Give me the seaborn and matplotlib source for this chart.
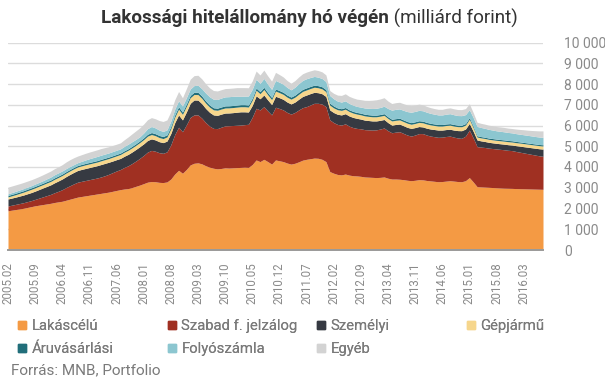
import pandas as pd
import matplotlib.pyplot as plt
import seaborn as sns
from matplotlib.lines import Line2D


# Data (milliard HUF, month-end), 2005.02 - 2016.08

months = pd.date_range("2005-02-01", periods=139, freq="MS")
month_labels = [d.strftime("%Y.%m") for d in months]

lakascelu = [
    1890, 1920, 1950, 1980, 2010, 2050, 2090, 2130, 2160, 2190, 2220, 2250,
    2290, 2320, 2350, 2400, 2450, 2500, 2550, 2580, 2610, 2640, 2670, 2700,
    2730, 2760, 2790, 2830, 2870, 2910, 2940, 2960, 3010, 3070, 3130, 3200,
    3270, 3300, 3290, 3260, 3250, 3280, 3420, 3660, 3840, 3700, 3880, 4100,
    4180, 4200, 4150, 4060, 3990, 3940, 3910, 3930, 3960, 3950, 3960, 3970,
    3980, 3990, 3980, 4120, 4340, 4260, 4370, 4260, 4140, 4340, 4300, 4260,
    4190, 4140, 4180, 4250, 4330, 4370, 4400, 4430, 4420, 4370, 4260, 3780,
    3700, 3640, 3620, 3660, 3610, 3580, 3570, 3550, 3520, 3510, 3500, 3490,
    3500, 3520, 3460, 3420, 3420, 3410, 3390, 3360, 3340, 3360, 3390, 3380,
    3350, 3330, 3310, 3290, 3300, 3320, 3340, 3320, 3300, 3290, 3340, 3490,
    3280, 3050, 3040, 3030, 3020, 3010, 3000, 2990, 2980, 2975, 2970, 2960,
    2955, 2950, 2945, 2940, 2935, 2930, 2925,
]
szabad_jelzalog = [
    230, 240, 250, 260, 270, 280, 290, 310, 340, 370, 400, 430,
    470, 510, 560, 610, 650, 690, 720, 730, 740, 750, 760, 770,
    790, 820, 860, 900, 940, 970, 1040, 1100, 1160, 1220, 1290, 1360,
    1450, 1500, 1470, 1430, 1410, 1450, 1650, 1900, 2080, 2000, 2150, 2290,
    2330, 2310, 2200, 2080, 1980, 1920, 1940, 1990, 2020, 2040, 2040, 2040,
    2040, 2050, 2080, 2280, 2490, 2490, 2540, 2440, 2370, 2540, 2520, 2490,
    2440, 2410, 2450, 2500, 2530, 2540, 2590, 2640, 2650, 2660, 2650, 2490,
    2440, 2410, 2400, 2420, 2360, 2320, 2290, 2290, 2280, 2280, 2280, 2300,
    2330, 2360, 2290, 2230, 2260, 2290, 2230, 2180, 2150, 2180, 2220, 2230,
    2190, 2160, 2150, 2140, 2140, 2150, 2150, 2120, 2100, 2090, 2150, 2290,
    2120, 1930, 1920, 1910, 1890, 1880, 1870, 1860, 1850, 1830, 1820, 1790,
    1760, 1730, 1700, 1670, 1640, 1610, 1590,
]
szemelyi = [
    340, 345, 350, 360, 370, 380, 390, 400, 415, 430, 445, 460,
    480, 500, 515, 530, 545, 555, 565, 575, 580, 585, 590, 595,
    600, 595, 580, 560, 545, 535, 540, 550, 555, 560, 560, 560,
    560, 555, 545, 530, 515, 520, 545, 575, 590, 570, 620, 680,
    720, 715, 700, 680, 665, 650, 640, 630, 620, 615, 620, 630,
    640, 620, 590, 570, 600, 540, 560, 530, 500, 530, 520, 510,
    500, 490, 500, 520, 540, 560, 550, 530, 510, 500, 490, 480,
    485, 490, 490, 490, 490, 490, 485, 470, 460, 450, 440, 430,
    420, 410, 390, 370, 370, 370, 370, 370, 370, 360, 340, 320,
    330, 340, 345, 350, 340, 335, 330, 340, 355, 370, 340, 320,
    320, 320, 300, 290, 280, 275, 270, 270, 270, 270, 270, 280,
    290, 300, 310, 320, 330, 340, 350,
]
gepjarmu = [
    100, 110, 120, 130, 140, 150, 155, 160, 160, 160, 165, 165,
    170, 170, 170, 170, 170, 170, 170, 170, 175, 175, 175, 175,
    180, 180, 180, 185, 185, 190, 195, 200, 200, 200, 200, 205,
    210, 210, 205, 200, 195, 200, 230, 260, 280, 270, 275, 270,
    265, 265, 260, 255, 250, 245, 245, 245, 245, 245, 245, 245,
    245, 245, 240, 250, 270, 245, 265, 250, 240, 250, 245, 240,
    235, 230, 235, 240, 245, 245, 245, 245, 240, 235, 230, 230,
    225, 220, 220, 218, 215, 210, 205, 205, 205, 200, 200, 200,
    200, 200, 200, 200, 200, 200, 200, 200, 200, 200, 200, 200,
    200, 200, 195, 195, 195, 195, 195, 195, 190, 190, 190, 200,
    170, 145, 145, 145, 145, 145, 145, 145, 145, 145, 145, 145,
    150, 150, 150, 150, 150, 150, 150,
]
aruvasarlasi = [
    70, 70, 70, 70, 70, 70, 70, 70, 70, 70, 70, 70,
    70, 70, 70, 70, 70, 70, 70, 70, 70, 70, 70, 70,
    70, 70, 70, 70, 70, 70, 70, 70, 75, 75, 80, 85,
    90, 95, 95, 100, 100, 100, 105, 110, 110, 110, 110, 110,
    110, 110, 105, 105, 100, 100, 100, 100, 100, 100, 100, 100,
    100, 100, 100, 100, 105, 100, 105, 100, 100, 100, 100, 100,
    100, 100, 100, 100, 100, 100, 100, 100, 100, 100, 100, 95,
    90, 85, 80, 80, 80, 80, 80, 80, 80, 80, 80, 80,
    80, 80, 80, 80, 80, 80, 80, 80, 80, 80, 80, 80,
    80, 75, 75, 75, 75, 75, 75, 75, 75, 75, 75, 80,
    70, 60, 60, 60, 60, 60, 60, 60, 60, 60, 60, 60,
    55, 55, 55, 55, 55, 55, 55,
]
folyoszamla = [
    80, 85, 90, 95, 100, 100, 105, 110, 115, 120, 130, 140,
    150, 150, 150, 145, 140, 135, 135, 150, 165, 180, 190, 200,
    200, 200, 200, 200, 200, 200, 210, 220, 220, 210, 200, 230,
    270, 290, 280, 260, 245, 240, 260, 280, 290, 290, 300, 310,
    320, 340, 360, 380, 400, 410, 420, 430, 435, 440, 440, 430,
    400, 410, 430, 430, 420, 400, 430, 410, 390, 410, 400, 390,
    370, 350, 380, 410, 430, 440, 430, 420, 410, 400, 390, 370,
    350, 330, 320, 320, 310, 300, 290, 290, 300, 310, 320, 330,
    340, 360, 400, 440, 450, 450, 460, 480, 500, 500, 500, 500,
    490, 480, 470, 460, 460, 470, 480, 470, 460, 460, 430, 380,
    420, 450, 440, 430, 420, 410, 400, 395, 390, 385, 380, 375,
    370, 370, 365, 365, 360, 360, 360,
]
egyeb = [
    320, 315, 310, 300, 295, 290, 285, 280, 280, 285, 285, 290,
    290, 290, 300, 320, 330, 330, 320, 320, 320, 320, 320, 320,
    320, 310, 300, 295, 290, 290, 320, 350, 380, 410, 430, 430,
    430, 430, 440, 460, 480, 480, 460, 450, 450, 400, 440, 470,
    480, 480, 470, 450, 430, 420, 410, 400, 400, 400, 400, 410,
    420, 410, 400, 400, 400, 400, 400, 400, 400, 390, 370, 350,
    330, 320, 320, 320, 320, 320, 320, 320, 320, 320, 320, 240,
    260, 290, 320, 340, 340, 350, 350, 360, 370, 380, 400, 410,
    410, 410, 360, 320, 320, 320, 320, 320, 320, 310, 300, 290,
    280, 275, 270, 270, 270, 280, 280, 285, 290, 290, 290, 290,
    240, 200, 200, 200, 200, 205, 205, 210, 210, 210, 210, 220,
    230, 240, 250, 260, 280, 295, 310,
]

series_names = ["Lakáscélú", "Szabad f. jelzálog", "Személyi", "Gépjármű",
                "Áruvásárlási", "Folyószámla", "Egyéb"]
colors = ["#F49A44", "#A03022", "#363A42", "#F6D68C",
          "#216E7A", "#8CC6D0", "#D3D3D3"]
y_ticks = [0, 1000, 2000, 3000, 4000, 5000, 6000, 7000, 8000, 9000, 10000]

df = pd.DataFrame({
    "Lakáscélú": lakascelu,
    "Szabad f. jelzálog": szabad_jelzalog,
    "Személyi": szemelyi,
    "Gépjármű": gepjarmu,
    "Áruvásárlási": aruvasarlasi,
    "Folyószámla": folyoszamla,
    "Egyéb": egyeb,
}, index=range(len(months)))


# Plot

sns.set_theme(style="white")
plt.rcParams["font.family"] = ["Roboto", "DejaVu Sans"]

grey_text = "#8A8A8A"

fig = plt.figure(figsize=(6.05, 3.78), dpi=100)
ax = fig.add_axes([8 / 605, 1 - 250 / 378, 535 / 605, 207.5 / 378])

ax.stackplot(df.index, [df[c] for c in series_names], colors=colors, linewidth=0)

ax.set_xlim(0, len(months) - 1)
ax.set_ylim(0, 10000)
ax.set_axisbelow(True)
ax.grid(axis="y", color="#DCDCDC", linewidth=1)
ax.grid(axis="x", visible=False)

ax.yaxis.tick_right()
ax.set_yticks(y_ticks)
ax.set_yticklabels([f"{v:,}".replace(",", " ") for v in y_ticks],
                   color=grey_text, fontsize=10, ha="left")
ax.tick_params(axis="y", length=0, pad=15)

tick_idx = list(range(0, len(months), 7))
ax.set_xticks(tick_idx)
ax.set_xticklabels([month_labels[i] for i in tick_idx], rotation=90,
                   color=grey_text, fontsize=8.3)
ax.tick_params(axis="x", length=0, pad=9)

sns.despine(ax=ax, left=True, right=True, top=True)
ax.spines["bottom"].set_color("#9A9A9A")
ax.spines["bottom"].set_linewidth(1.4)

# Title (bold part + regular part)
fig.text(389 / 605, 1 - 18 / 378, "Lakossági hitelállomány hó végén",
         ha="right", va="center", fontsize=13.6, fontweight="bold", color="#333333")
fig.text(389 / 605, 1 - 18 / 378, " (milliárd forint)",
         ha="left", va="center", fontsize=13.6, color="#333333")

# Legend in fixed-width columns
columns = [[0, 4], [1, 5], [2, 6], [3]]
col_x = [18, 168, 317, 467]
for xs, idxs in zip(col_x, columns):
    handles = [Line2D([], [], marker="s", linestyle="", markersize=6,
                      color=colors[i]) for i in idxs]
    leg = fig.legend(handles, [series_names[i] for i in idxs],
                     loc="upper left", bbox_to_anchor=(xs / 605, 1 - 319 / 378),
                     frameon=False, fontsize=10.7, handlelength=0.6,
                     handletextpad=0.3, labelspacing=0.62, borderpad=0,
                     borderaxespad=0)
    for t in leg.get_texts():
        t.set_color("#7A7A7A")
    fig.add_artist(leg)

fig.text(11 / 605, 1 - 370 / 378, "Forrás: MNB, Portfolio",
         ha="left", va="center", fontsize=11, color="#7A7A7A")

fig.savefig("out.png", dpi=100)
